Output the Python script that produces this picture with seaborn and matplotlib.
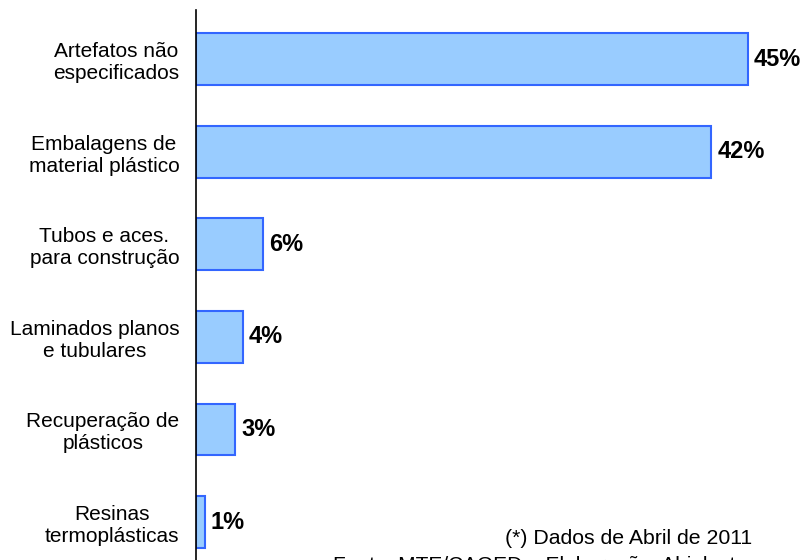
import matplotlib
matplotlib.use("Agg")
import matplotlib.pyplot as plt
import pandas as pd
import seaborn as sns

# Data
categories = [
    "Artefatos não\nespecificados",
    "Embalagens de\nmaterial plástico",
    "Tubos e aces.\npara construção",
    "Laminados planos\ne tubulares",
    "Recuperação de\nplásticos",
    "Resinas\ntermoplásticas",
]
shares = [45.0, 42.0, 5.5, 3.8, 3.2, 0.7]
value_labels = ["45%", "42%", "6%", "4%", "3%", "1%"]

df = pd.DataFrame({"category": categories, "share": shares})

sns.set_theme(style="white")
plt.rcParams["font.family"] = ["Liberation Sans", "DejaVu Sans"]

fig = plt.figure(figsize=(8.05, 5.6), dpi=100)
ax = fig.add_axes([196 / 805, 0.0, 601 / 805, 550 / 560])

sns.barplot(
    data=df,
    x="share",
    y="category",
    orient="h",
    color="#99CCFF",
    saturation=1,
    edgecolor="#3366FF",
    linewidth=1.5,
    width=0.56,
    ax=ax,
)

ax.set_xlim(0, 49)
ax.set_ylim(5.41, -0.53)
ax.set_xlabel("")
ax.set_ylabel("")
ax.set_xticks([])

for side in ["top", "right", "bottom"]:
    ax.spines[side].set_visible(False)
ax.spines["left"].set_color("black")
ax.spines["left"].set_linewidth(1.2)

ax.tick_params(axis="y", length=0, pad=12, labelsize=15, colors="black")
for lbl in ax.get_yticklabels():
    lbl.set_multialignment("center")
    lbl.set_linespacing(1.2)

# Value labels
for i, (v, txt) in enumerate(zip(shares, value_labels)):
    ax.text(v + 0.5, i, txt, va="center", ha="left", fontsize=17, fontweight="bold", color="black")

fig.text(752 / 805, 1 - 538 / 560, "(*) Dados de Abril de 2011", ha="right", va="center", fontsize=15.3, color="black")
fig.text(333 / 805, 1 - 556 / 560, "Fonte: MTE/CAGED – Elaboração: Abiplast", ha="left", va="top", fontsize=15, color="black")

fig.savefig("out.png", dpi=100)
